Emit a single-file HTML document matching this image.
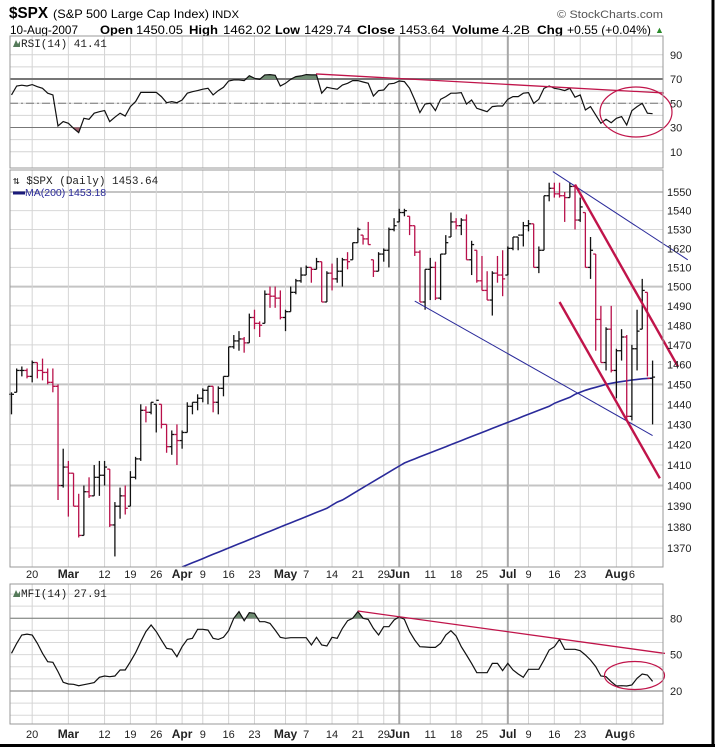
<!DOCTYPE html>
<html><head><meta charset="utf-8">
<style>
html,body{margin:0;padding:0;background:#fff;}
svg{display:block;font-family:"Liberation Sans",sans-serif;}
</style></head>
<body>
<svg id="chart" width="715" height="747" viewBox="0 0 715 747" xmlns="http://www.w3.org/2000/svg">
  <rect x="0" y="0" width="715" height="747" fill="#fff"/>
  <g>
    <text x="9" y="18" font-size="16" font-weight="bold" textLength="39" lengthAdjust="spacingAndGlyphs">$SPX</text>
    <text x="53" y="18" font-size="12" textLength="156" lengthAdjust="spacingAndGlyphs">(S&amp;P 500 Large Cap Index)</text>
    <text x="212" y="18" font-size="11" textLength="27" lengthAdjust="spacingAndGlyphs">INDX</text>
    <text x="557" y="18" font-size="11" fill="#555" textLength="106" lengthAdjust="spacingAndGlyphs">© StockCharts.com</text>
    <g font-size="12">
      <text x="10" y="34" textLength="68" lengthAdjust="spacingAndGlyphs">10-Aug-2007</text>
      <text x="100" y="34" font-weight="bold" textLength="33" lengthAdjust="spacingAndGlyphs">Open</text>
      <text x="136" y="34" textLength="47" lengthAdjust="spacingAndGlyphs">1450.05</text>
      <text x="189" y="34" font-weight="bold" textLength="29" lengthAdjust="spacingAndGlyphs">High</text>
      <text x="223" y="34" textLength="48" lengthAdjust="spacingAndGlyphs">1462.02</text>
      <text x="275" y="34" font-weight="bold" textLength="25" lengthAdjust="spacingAndGlyphs">Low</text>
      <text x="304" y="34" textLength="47" lengthAdjust="spacingAndGlyphs">1429.74</text>
      <text x="357" y="34" font-weight="bold" textLength="38" lengthAdjust="spacingAndGlyphs">Close</text>
      <text x="399" y="34" textLength="46" lengthAdjust="spacingAndGlyphs">1453.64</text>
      <text x="452" y="34" font-weight="bold" textLength="47" lengthAdjust="spacingAndGlyphs">Volume</text>
      <text x="502" y="34" textLength="28" lengthAdjust="spacingAndGlyphs">4.2B</text>
      <text x="537" y="34" font-weight="bold" textLength="26" lengthAdjust="spacingAndGlyphs">Chg</text>
      <text x="567" y="34" textLength="84" lengthAdjust="spacingAndGlyphs">+0.55 (+0.04%)</text>
      <text x="655" y="33" font-size="9" fill="#2a8a2a">▲</text>
    </g>
  </g>
  <g id="rsiPanel"></g>
  <g id="pricePanel"></g>
  <g id="mfiPanel"></g>
  <g id="dates"></g>
  <line x1="713" y1="0" x2="713" y2="747" stroke="#000" stroke-width="3"/>
  <line x1="0" y1="745.5" x2="715" y2="745.5" stroke="#000" stroke-width="3"/>
</svg>
<script>
// ---- data ----
const highs = [1446,1458,1459,1458,1462,1461,1463,1458,1458,1450,1418,1412,1406,1396,1400,1404,1410,1412,1412,1408,1392,1399,1400,1407,1414,1440,1439,1441,1440,1440,1430,1427,1430,1427,1441,1441,1445,1448,1449,1449,1449,1454,1469,1475,1477,1474,1486,1488,1482,1498,1500,1500,1498,1488,1500,1504,1510,1511,1510,1515,1513,1508,1512,1515,1515,1518,1523,1531,1527,1534,1514,1518,1520,1531,1536,1541,1541,1537,1532,1519,1509,1515,1513,1517,1527,1539,1536,1536,1538,1524,1519,1516,1508,1508,1516,1519,1521,1526,1526,1534,1535,1533,1521,1548,1555,1555,1555,1550,1555,1554,1547,1539,1526,1517,1490,1479,1490,1468,1478,1475,1470,1488,1504,1497,1462];
const lows = [1435,1446,1454,1453,1451,1453,1452,1450,1446,1393,1399,1385,1390,1375,1376,1394,1395,1395,1400,1380,1366,1384,1386,1390,1403,1412,1431,1435,1426,1428,1416,1415,1410,1418,1426,1435,1437,1441,1440,1436,1435,1444,1454,1468,1467,1466,1471,1478,1474,1481,1489,1489,1483,1477,1487,1496,1502,1506,1502,1509,1492,1492,1498,1502,1500,1509,1514,1523,1522,1522,1505,1508,1513,1510,1529,1534,1537,1527,1516,1492,1488,1493,1493,1493,1517,1526,1530,1527,1514,1506,1502,1498,1493,1485,1502,1495,1506,1519,1519,1521,1529,1510,1507,1519,1545,1547,1547,1534,1547,1530,1534,1510,1504,1467,1461,1457,1456,1443,1462,1432,1432,1457,1478,1454,1430];
const closes = [1445,1457,1457,1454,1461,1457,1456,1451,1449,1400,1409,1406,1390,1376,1397,1395,1404,1405,1409,1381,1390,1395,1389,1404,1413,1437,1436,1441,1442,1430,1419,1425,1422,1426,1439,1441,1443,1447,1449,1441,1448,1454,1469,1472,1473,1471,1484,1481,1480,1496,1495,1494,1484,1487,1497,1503,1506,1510,1509,1513,1492,1507,1504,1508,1514,1513,1523,1530,1525,1522,1508,1517,1519,1530,1532,1539,1540,1532,1518,1492,1509,1510,1494,1517,1523,1534,1532,1535,1514,1522,1503,1498,1493,1507,1506,1504,1520,1526,1527,1532,1533,1510,1519,1548,1552,1549,1548,1547,1553,1535,1542,1510,1519,1483,1461,1478,1457,1467,1474,1434,1468,1477,1498,1453,1453.64];
const ma200Start = 33;
const ma200 = [1361,1362,1363,1364,1365,1366,1367,1368,1369,1370,1371,1372,1373,1374,1375,1376,1377,1378,1379,1380,1381,1382,1383,1384,1385,1386,1387,1388,1389,1390.5,1392,1393,1394.5,1396,1397.5,1399,1400.5,1402,1403.5,1405,1406.5,1408,1409.5,1411,1412,1413,1414,1415,1416,1417,1418,1419,1420,1421,1422,1423,1424,1425,1426,1427,1428,1429,1430,1431,1432,1433,1434,1435,1436,1437,1438,1439,1440.5,1441.5,1442.5,1443.5,1445,1446,1447,1447.8,1448.5,1449.2,1450,1450.5,1451,1451.4,1451.8,1452.2,1452.5,1452.8,1453,1453.18];
const rsi = [56.9,64.3,64.9,64.3,65.4,63.7,62.4,58.3,56.9,31.3,34.9,33.5,29.4,25.8,37.6,36.8,41.8,43.1,44,34.9,38.5,41.8,39.5,47.3,51.4,59,59,59,59,55.5,50.5,51.4,50.5,52.7,58.3,59.6,60.5,61.6,62.4,56.9,60.5,63.2,68.4,69.3,69.3,68.7,72.8,70.6,69.8,73.4,73.7,73.1,64.3,66.5,69.8,72,72.6,73.7,73.4,73.4,58.3,63.2,62.4,61.6,65.1,66.5,68.7,68.7,67.6,66.5,56,60.5,61,66,66.5,68.4,67.9,62.4,52.7,42.3,49.4,50,44,53.3,55.5,58.3,58.3,58.8,49.4,52.7,45.9,44.5,43.1,47.3,47.8,47.8,53.3,55.5,55.5,58.3,58.8,50,53.3,62.4,64.3,62.4,61.6,60.5,62.4,55,56.9,44.5,47.3,40.4,33.5,36.8,34,37.6,39,32.1,44,47.3,50,41.8,41.41];
const mfi = [51.1,59.3,66.2,67,66.2,59.3,51.1,44.2,43.7,36,27.2,25.8,25.5,24.4,25.2,26,26.9,31.3,32.4,31.8,32.4,37.3,37.3,44.2,51.6,60.7,69,74.5,69,62,55.2,54.4,48.3,56.6,62.6,63.5,70.9,70.9,70.3,63.5,62.6,64.3,69.8,80,85.5,78,84.6,84.1,77.2,77.2,75.8,70.3,64.3,63.5,64,64,64,64,58,64.3,58,57.1,64.3,63.5,71.7,78,80,85.5,80,79.1,71.7,66.2,73.1,73.1,78.6,81.3,79.1,69,62,56.6,56.3,56,56,59.3,66.2,69.8,65.4,56.6,49.7,42.8,35.1,35.1,35.1,42.8,42.8,36.8,42.8,37.3,34,31.3,37.9,37.9,37.9,45.6,53.8,56.6,62.6,54.4,54.4,54.4,53.3,49.7,45.6,40.1,32.4,31.8,27.7,24.1,24.4,24.1,25,30.5,34,33.2,27.91];
const priceTicks = [1550,1540,1530,1520,1510,1500,1490,1480,1470,1460,1450,1440,1430,1420,1410,1400,1390,1380,1370];
const priceTickLabels = ["1550","1540","1530","1620","1510","1500","1490","1480","1470","1460","1450","1440","1430","1420","1410","1400","1390","1380","1370"];
const rsiTicks = [90,70,50,30,10];
const mfiTicks = [80,50,20];
const dateIdx = [4,11,18,23,28,33,37,42,47,53,57,62,67,72,75,81,86,91,96,100,105,110,117,120];
const dateText = ["20","Mar","12","19","26","Apr","9","16","23","May","7","14","21","29","Jun","11","18","25","Jul","9","16","23","Aug","6"];
const dateBold = [0,1,0,0,0,1,0,0,0,1,0,0,0,0,1,0,0,0,1,0,0,0,1,0];
// annotation trendlines [i1,v1,i2,v2]
const priceTrendBlue = [[104.7,1561,130.8,1514],[78,1492.5,124,1424.5]];
const priceTrendRed = [[109,1554,128.9,1459],[106,1492,125.4,1403.5]];
const rsiTrend = [58.9,74.2,126.2,58.5];
const mfiTrend = [67,86,126.4,51];

// ---- axes ----
const L=10, R=663;
const RSI_T=36, RSI_B=168, P_T=170, P_B=567, M_T=584, M_B=724;
const xI = i => 11.5 + 5.17*i;
const yP = v => 192 + Math.log(1550/v)*2884;
const yR = v => 103.3 - (v-50)*1.2125;
const yM = v => 691 - (v-20)*(72.7/60);
const NS='http://www.w3.org/2000/svg';
function mk(tag, attrs, parent){const e=document.createElementNS(NS,tag);for(const k in attrs)e.setAttribute(k,attrs[k]);parent.appendChild(e);return e;}

function vGrid(g, top, bot){
  dateIdx.forEach((di,k)=>{
    const dark = dateText[k]==="Jun"||dateText[k]==="Jul";
    const ln = mk('line',{x1:xI(di),x2:xI(di),y1:top,y2:bot,stroke:dark?'#a8a8a8':'#d4d4d4','stroke-width':dark?2:1},g);
    
    
  });
}
function frame(g, top, bot){
  const r = mk('rect',{x:L,y:top,width:R-L,height:bot-top,fill:'none',stroke:'#999','stroke-width':1},g);
  
  
}
function lineFromArr(arr, yf, start){
  return arr.map((v,k)=>(k?'L':'M')+xI(k+start).toFixed(1)+','+yf(v).toFixed(1)).join('');
}

// ---- RSI panel ----
(function(){
  const g=document.getElementById('rsiPanel');
  for(let v=10; v<=90; v+=10){
    const ln=mk('line',{x1:L,x2:R,y1:yR(v),y2:yR(v),stroke:'#d4d4d4'},g);
    
    
  }
  vGrid(g,RSI_T,RSI_B);
  const l70=mk('line',{x1:L,x2:R,y1:yR(70),y2:yR(70),stroke:'#777','stroke-width':2},g);
  
  
  const l30=mk('line',{x1:L,x2:R,y1:yR(30),y2:yR(30),stroke:'#777','stroke-width':1},g);
  
  
  const l50=mk('line',{x1:L,x2:R,y1:yR(50),y2:yR(50),stroke:'#777','stroke-dasharray':'8,3,2,3'},g);
  
  
  const defs=mk('defs',{},g);
  const c1=mk('clipPath',{id:'rsiAbove'},defs); mk('rect',{x:L,y:RSI_T,width:R-L,height:yR(70)-RSI_T},c1);
  const c2=mk('clipPath',{id:'rsiBelow'},defs); mk('rect',{x:L,y:yR(30),width:R-L,height:RSI_B-yR(30)},c2);
  const d=lineFromArr(rsi,yR,0);
  const fa=mk('path',{d:d+'L'+xI(rsi.length-1)+','+yR(70)+'L'+xI(0)+','+yR(70)+'Z',fill:'#6f8c72','clip-path':'url(#rsiAbove)'},g);
  
  
  const fb=mk('path',{d:d+'L'+xI(rsi.length-1)+','+yR(30)+'L'+xI(0)+','+yR(30)+'Z',fill:'#a0606e','clip-path':'url(#rsiBelow)'},g);
  
  
  const p=mk('path',{d:d,fill:'none',stroke:'#111','stroke-width':1.2},g);
  
  
  const t=mk('line',{x1:xI(rsiTrend[0]),y1:yR(rsiTrend[1]),x2:xI(rsiTrend[2]),y2:yR(rsiTrend[3]),stroke:'#c0144a','stroke-width':1.3},g);
  
  
  const e=mk('ellipse',{cx:636,cy:112,rx:36,ry:25,fill:'none',stroke:'#c0144a','stroke-width':1.2},g);
  
  
  frame(g,RSI_T,RSI_B);
  rsiTicks.forEach(v=>{
    const tx=mk('text',{x:670,y:yR(v)+4,'font-size':11,fill:'#222'},g);
    tx.textContent=String(v);
    
    
  });
  const ic=mk('path',{d:'M13,47 L16,40 L18,44 L20,41 L20,47 Z',fill:'#557a5a'},g);
  
  
  const lb=mk('text',{x:21,y:47,'font-size':11,'font-family':'Liberation Mono, monospace',fill:'#222'},g);
  lb.textContent='RSI(14) 41.41';
  
  
})();

// ---- price panel ----
(function(){
  const g=document.getElementById('pricePanel');
  priceTicks.forEach(v=>{
    const ln=mk('line',{x1:L,x2:R,y1:yP(v),y2:yP(v),stroke:(v%50===0)?'#c4c4c4':'#d8d8d8','stroke-width':(v%50===0)?2:1},g);
    
    
  });
  vGrid(g,P_T,P_B);
  const defs=mk('defs',{},g);
  const cp=mk('clipPath',{id:'priceClip'},defs); mk('rect',{x:L,y:P_T,width:R-L+30,height:P_B-P_T},cp);
  const cp2=mk('clipPath',{id:'priceClipIn'},defs); mk('rect',{x:L,y:P_T,width:R-L,height:P_B-P_T},cp2);
  const ma=mk('path',{d:lineFromArr(ma200,yP,ma200Start),fill:'none',stroke:'#2a2a9a','stroke-width':1.6,'clip-path':'url(#priceClipIn)'},g);
  
  
  closes.forEach((c,i)=>{
    const up = i===0 || c>=closes[i-1];
    const col = up ? '#111' : '#b8104a';
    const x=xI(i);
    const o = i===0 ? c : closes[i-1];
    const bg=mk('g',{stroke:col,'stroke-width':1.3},g);
    
    
    mk('line',{x1:x,x2:x,y1:yP(highs[i]),y2:yP(lows[i])},bg);
    mk('line',{x1:x-2.5,x2:x,y1:yP(Math.min(Math.max(o,lows[i]),highs[i])),y2:yP(Math.min(Math.max(o,lows[i]),highs[i]))},bg);
    mk('line',{x1:x,x2:x+2.5,y1:yP(c),y2:yP(c)},bg);
  });
  priceTrendBlue.forEach(t=>{
    const ln=mk('line',{x1:xI(t[0]),y1:yP(t[1]),x2:xI(t[2]),y2:yP(t[3]),stroke:'#2a2a9a','stroke-width':1,'clip-path':'url(#priceClip)'},g);
    
    
  });
  priceTrendRed.forEach(t=>{
    const ln=mk('line',{x1:xI(t[0]),y1:yP(t[1]),x2:xI(t[2]),y2:yP(t[3]),stroke:'#c0144a','stroke-width':2.4,'clip-path':'url(#priceClip)'},g);
    
    
  });
  frame(g,P_T,P_B);
  priceTicks.forEach((v,k)=>{
    const tx=mk('text',{x:667,y:yP(v)+4,'font-size':11,fill:'#222'},g);
    tx.textContent=priceTickLabels[k];
    
    
  });
  const lb=mk('text',{x:13,y:184,'font-size':11,'font-family':'Liberation Mono, monospace',fill:'#222'},g);
  lb.textContent='⇅ $SPX (Daily) 1453.64';
  
  
  const ml=mk('line',{x1:13,x2:25,y1:193,y2:193,stroke:'#1a1a7a','stroke-width':3},g);
  
  
  const lb2=mk('text',{x:25,y:196,'font-size':10.5,fill:'#2a2a9a'},g);
  lb2.textContent='MA(200) 1453.18';
  
  
})();

// ---- MFI panel ----
(function(){
  const g=document.getElementById('mfiPanel');
  for(let v=0; v<=100; v+=10){
    const y=yM(v); if(y<M_T||y>M_B) continue;
    const ln=mk('line',{x1:L,x2:R,y1:y,y2:y,stroke:'#d8d8d8'},g);
    
    
  }
  vGrid(g,M_T,M_B);
  [80,20].forEach(v=>{
    const ln=mk('line',{x1:L,x2:R,y1:yM(v),y2:yM(v),stroke:'#777'},g);
    
    
  });
  const defs=mk('defs',{},g);
  const c1=mk('clipPath',{id:'mfiAbove'},defs); mk('rect',{x:L,y:M_T,width:R-L,height:yM(80)-M_T},c1);
  const d=lineFromArr(mfi,yM,0);
  const fa=mk('path',{d:d+'L'+xI(mfi.length-1)+','+yM(80)+'L'+xI(0)+','+yM(80)+'Z',fill:'#6f8c72','clip-path':'url(#mfiAbove)'},g);
  
  
  const p=mk('path',{d:d,fill:'none',stroke:'#111','stroke-width':1.2},g);
  
  
  const t=mk('line',{x1:xI(mfiTrend[0]),y1:yM(mfiTrend[1]),x2:xI(mfiTrend[2]),y2:yM(mfiTrend[3]),stroke:'#c0144a','stroke-width':1.3},g);
  
  
  const e=mk('ellipse',{cx:634.5,cy:675.5,rx:30,ry:14,fill:'none',stroke:'#c0144a','stroke-width':1.2},g);
  
  
  frame(g,M_T,M_B);
  mfiTicks.forEach(v=>{
    const tx=mk('text',{x:670,y:yM(v)+4,'font-size':11,fill:'#222'},g);
    tx.textContent=String(v);
    
    
  });
  const ic=mk('path',{d:'M13,597 L16,590 L18,594 L20,591 L20,597 Z',fill:'#557a5a'},g);
  
  
  const lb=mk('text',{x:21,y:597,'font-size':11,'font-family':'Liberation Mono, monospace',fill:'#222'},g);
  lb.textContent='MFI(14) 27.91';
  
  
})();

// ---- date axes ----
(function(){
  const g=document.getElementById('dates');
  [578,738].forEach(yb=>{
    dateIdx.forEach((di,k)=>{
      const tx=mk('text',{x:xI(di),y:yb,'font-size':dateBold[k]?12:11,'font-weight':dateBold[k]?'bold':'normal','text-anchor':'middle',fill:'#222'},g);
      tx.textContent=dateText[k];
      
      
    });
  });
})();
</script>
</body></html>
